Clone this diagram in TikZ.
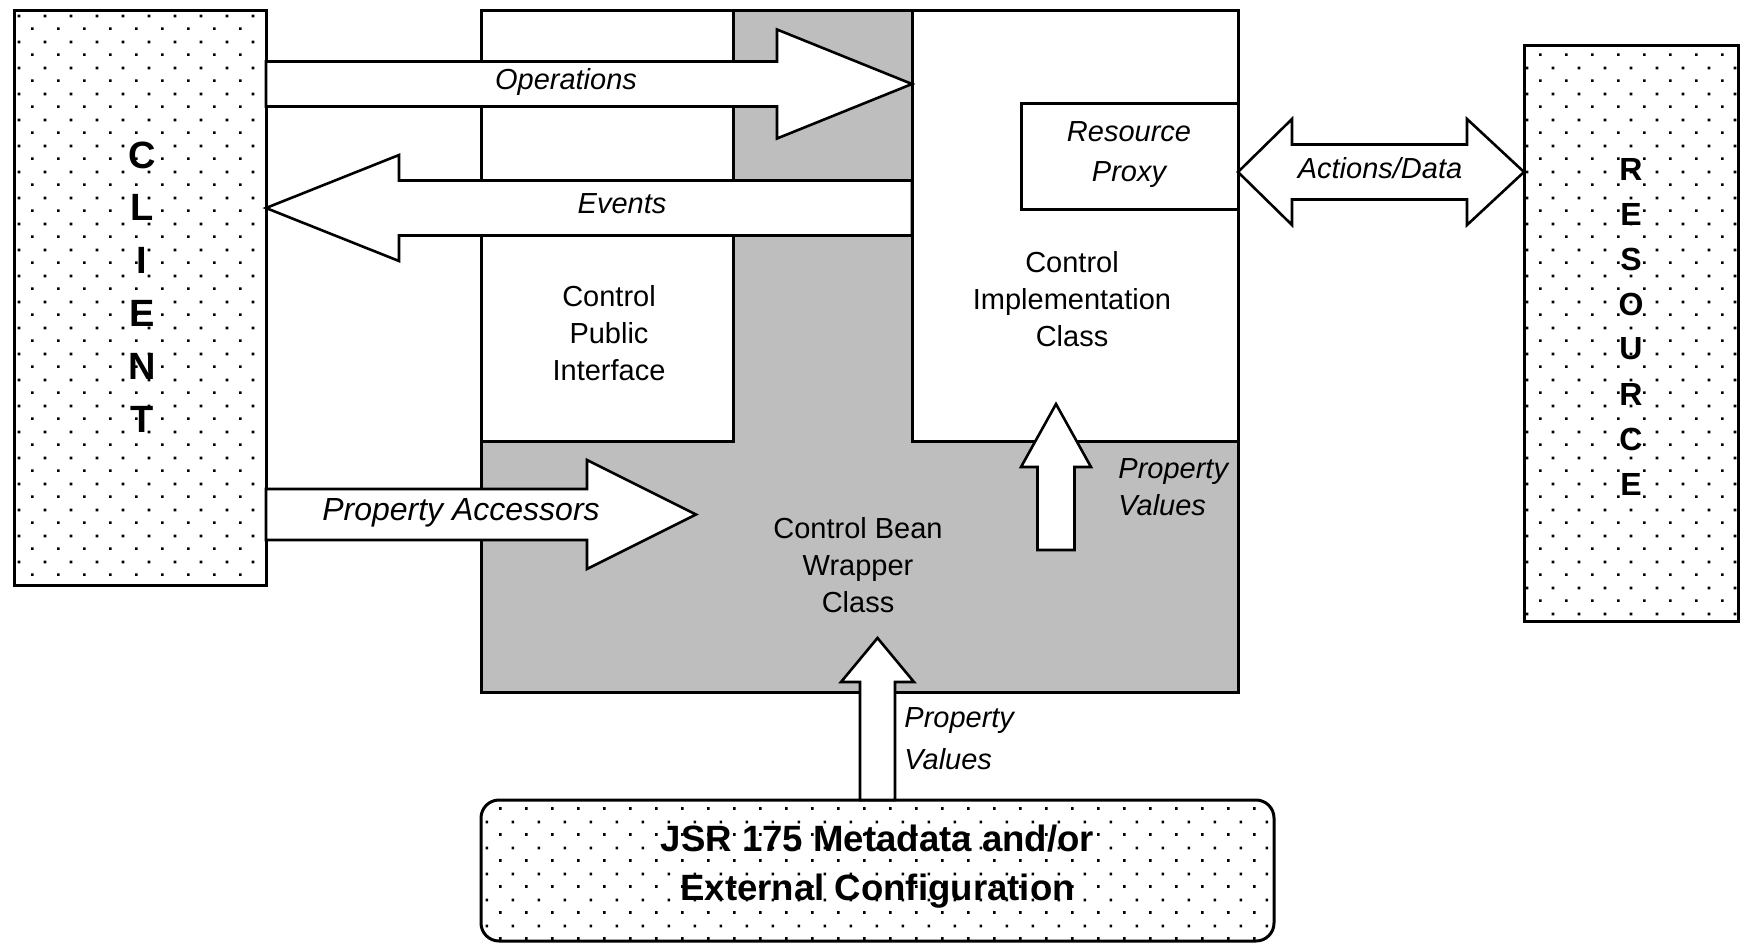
\documentclass[tikz,border=0pt]{standalone}
\usepackage{fontspec}
\setmainfont{Liberation Sans}
\usetikzlibrary{calc,patterns.meta}
\definecolor{wrapgray}{RGB}{190,190,190}

% staggered dot raster used for the outer boxes
\tikzdeclarepattern{
  name=stipple, type=uncolored,
  bounding box={(0pt,0pt) and (13pt,13pt)},
  tile size={(13pt,13pt)},
  code={
    \pgfpathrectangle{\pgfpoint{2.6pt}{2.6pt}}{\pgfpoint{1.4pt}{1.4pt}}
    \pgfpathrectangle{\pgfpoint{9.1pt}{9.1pt}}{\pgfpoint{1.4pt}{1.4pt}}
    \pgfusepath{fill}
  }}

% block arrow: tail, tip, tip->head base, shaft half width, head half width
\newcommand{\fatarrow}[5]{%
  \draw[fat] ($(#1)+(#4)$) -- ($(#2)+(#3)+(#4)$) -- ($(#2)+(#3)+(#5)$) -- (#2)
    -- ($(#2)+(#3)-(#5)$) -- ($(#2)+(#3)-(#4)$) -- ($(#1)-(#4)$) -- cycle;}

\begin{document}
\begin{tikzpicture}[
    x=0.5pt, y=-0.5pt,
    box/.style={draw, line width=1.5pt, inner sep=0pt, outer sep=0pt,
                anchor=north west},
    stipplebox/.style={box, pattern=stipple, pattern color=black},
    fat/.style={draw, fill=white, line width=1.3pt},
    lbl/.style={font=\fontsize{14.5}{18.5}\selectfont, align=center, inner sep=0pt},
    ilbl/.style={font=\fontsize{14.5}{18.5}\selectfont\itshape, align=center, inner sep=0pt},
    letter/.style={font=\fontsize{19}{19}\selectfont\bfseries, inner sep=0pt},
]
\useasboundingbox (0,0) rectangle (1741,944);

% ---------------- boxes ----------------
\node[box, fill=wrapgray, minimum width=378.5pt, minimum height=341pt] (wrapper) at (481,10) {};
\node[box, fill=white, minimum width=126pt, minimum height=215.5pt] (iface) at (481,10) {};
\node[box, fill=white, minimum width=163pt, minimum height=215.5pt] (impl) at (912,10) {};
\node[box, fill=white, minimum width=108.5pt, minimum height=53pt] (proxy) at (1021,103) {};

\node[stipplebox, minimum width=126pt, minimum height=287.5pt] (client) at (14,10) {};
\node[stipplebox, minimum width=107pt, minimum height=288pt] (resource) at (1524,45) {};
\node[stipplebox, rounded corners=9pt, minimum width=396.5pt, minimum height=70.5pt] (meta) at (481,800) {};

% ---------------- block arrows ----------------
\coordinate (ops-tail) at (client.east |- 0,84);
\coordinate (ops-tip)  at (impl.west |- 0,84);
\coordinate (ev-tail)  at (impl.west |- 0,208);
\coordinate (ev-tip)   at (client.east |- 0,208);
\coordinate (pa-tail)  at (client.east |- 0,514.5);
\coordinate (pa-tip)   at (696,514.5);
\coordinate (pv-tail)  at (1056,550);
\coordinate (pv-tip)   at (1056,404);
\coordinate (cfg-tip)  at (meta.north |- 0,638);

\fatarrow{ops-tail}{ops-tip}{-135,0}{0,22.5}{0,54.5}
\fatarrow{ev-tail}{ev-tip}{133,0}{0,27.5}{0,53}
\fatarrow{pa-tail}{pa-tip}{-109,0}{0,25.5}{0,54.5}
\fatarrow{pv-tail}{pv-tip}{0,63}{18.5,0}{35,0}
\fatarrow{meta.north}{cfg-tip}{0,44}{17.5,0}{36.5,0}

% two-headed arrow between proxy and resource
\coordinate (ad-l) at (proxy.east |- 0,172);
\coordinate (ad-r) at (resource.west |- 0,172);
\draw[fat] (ad-l) -- ++(54,-53) -- ++(0,25.5) -- ($(ad-r)+(-57,-27.5)$) -- ++(0,-25.5)
  -- (ad-r) -- ++(-57,53) -- ++(0,-25.5) -- ($(ad-l)+(54,27.5)$) -- ++(0,25.5) -- cycle;

% ---------------- labels ----------------
\node[lbl] (iface-txt) at (609,333) {Control\\Public\\Interface};
\node[lbl] (impl-txt) at (1072,299) {Control\\Implementation\\Class};
\node[ilbl, font=\fontsize{14.5}{20}\selectfont\itshape] (proxy-txt) at (1129,155) {Resource\\Proxy};
\node[lbl] (wrap-txt) at (858,565) {Control Bean\\Wrapper\\Class};
\node[font=\fontsize{18.3}{24.5}\selectfont\bfseries, align=center, inner sep=0pt]
  (meta-txt) at (877.5,867) {JSR 175 Metadata and/or\\External Configuration};

\node[ilbl] (ops-txt) at (566,82) {Operations};
\node[ilbl] (ev-txt) at (622,204) {Events};
\node[ilbl, font=\fontsize{16}{18}\selectfont\itshape] (pa-txt) at (461,513) {Property Accessors};
\node[ilbl] (ad-txt) at (1380,168) {Actions/Data};
\node[ilbl, align=left, anchor=west] (pv-txt) at (1118,487) {Property\\Values};
\node[ilbl, align=left, anchor=west, font=\fontsize{14.5}{21}\selectfont\itshape]
  (cfg-txt) at (904,739) {Property\\Values};

\foreach \l [count=\k from 0] in {C,L,I,E,N,T}
  \node[letter] (client-\k) at (142,155+52.8*\k) {\l};
\foreach \l [count=\k from 0] in {R,E,S,O,U,R,C,E}
  \node[letter, font=\fontsize{16}{16}\selectfont\bfseries] (res-\k) at (1631,169+45*\k) {\l};

\end{tikzpicture}
\end{document}
